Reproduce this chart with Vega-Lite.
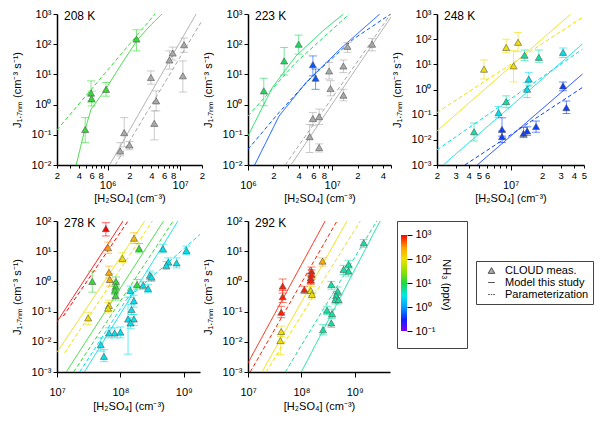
{
  "$schema": "https://vega.github.io/schema/vega-lite/v6.json",
  "padding": {"left": 11, "top": 8, "right": 2, "bottom": 2},
  "config": {
    "view": {"stroke": null},
    "font": "Liberation Sans",
    "axis": {
      "grid": false, "domainColor": "black", "domainWidth": 1.5, "tickColor": "black", "tickWidth": 1,
      "labelColor": "black", "titleColor": "black", "labelFont": "Liberation Sans", "titleFont": "Liberation Sans",
      "titleFontWeight": "normal", "titleFontSize": 11, "labelFontSize": 11, "labelOverlap": false, "labelFlush": false
    },
    "title": {"font": "Liberation Sans", "fontSize": 12, "fontWeight": "normal", "color": "black"}
  },
  "datasets": {
    "pts": [
      {"T": "208 K", "x": 4.9e5, "j": 0.15, "lo": 0.055, "hi": 0.37, "nh3": 12},
      {"T": "208 K", "x": 5.9e5, "j": 2.4, "lo": 1.2, "hi": 6.1, "nh3": 12},
      {"T": "208 K", "x": 6.0e5, "j": 1.6, "lo": 0.9, "hi": 2.8, "nh3": 12},
      {"T": "208 K", "x": 9.5e5, "j": 3.2, "lo": 1.9, "hi": 5.4, "nh3": 12},
      {"T": "208 K", "x": 2.5e6, "j": 148, "lo": 60, "hi": 300, "nh3": 12},
      {"T": "208 K", "x": 1.49e6, "j": 0.029, "lo": 0.02, "hi": 0.055, "nh3": null},
      {"T": "208 K", "x": 1.69e6, "j": 0.118, "lo": 0.04, "hi": 0.37, "nh3": null},
      {"T": "208 K", "x": 2.0e6, "j": 0.046, "lo": 0.032, "hi": 0.06, "nh3": null},
      {"T": "208 K", "x": 3.95e6, "j": 7.9, "lo": 4.75, "hi": 13, "nh3": null},
      {"T": "208 K", "x": 4.67e6, "j": 1.33, "lo": 0.62, "hi": 2.85, "nh3": null},
      {"T": "208 K", "x": 4.4e6, "j": 0.24, "lo": 0.068, "hi": 0.62, "nh3": null},
      {"T": "208 K", "x": 7.1e6, "j": 30, "lo": 15, "hi": 60, "nh3": null},
      {"T": "208 K", "x": 7.9e6, "j": 51, "lo": 30, "hi": 80, "nh3": null},
      {"T": "208 K", "x": 1.13e7, "j": 96, "lo": 54, "hi": 160, "nh3": null},
      {"T": "208 K", "x": 1.09e7, "j": 9, "lo": 2.6, "hi": 28, "nh3": null},

      {"T": "223 K", "x": 1.54e6, "j": 2.86, "lo": 0.91, "hi": 7.5, "nh3": 8},
      {"T": "223 K", "x": 2.69e6, "j": 28, "lo": 9.5, "hi": 78, "nh3": 8},
      {"T": "223 K", "x": 4.0e6, "j": 100, "lo": 47, "hi": 200, "nh3": 8},
      {"T": "223 K", "x": 5.9e6, "j": 21, "lo": 9, "hi": 41, "nh3": 0.5},
      {"T": "223 K", "x": 6.35e6, "j": 7.5, "lo": 3.2, "hi": 15, "nh3": 0.5},
      {"T": "223 K", "x": 5.4e6, "j": 0.087, "lo": 0.026, "hi": 0.22, "nh3": null},
      {"T": "223 K", "x": 5.9e6, "j": 0.345, "lo": 0.2, "hi": 0.55, "nh3": null},
      {"T": "223 K", "x": 7.0e6, "j": 0.40, "lo": 0.22, "hi": 0.71, "nh3": null},
      {"T": "223 K", "x": 7.0e6, "j": 0.038, "lo": 0.027, "hi": 0.05, "nh3": null},
      {"T": "223 K", "x": 9.2e6, "j": 13, "lo": 7, "hi": 25, "nh3": null},
      {"T": "223 K", "x": 9.55e6, "j": 3.4, "lo": 1.95, "hi": 6.2, "nh3": null},
      {"T": "223 K", "x": 1.36e7, "j": 19, "lo": 11.5, "hi": 30, "nh3": null},
      {"T": "223 K", "x": 1.36e7, "j": 2.05, "lo": 1.33, "hi": 3.2, "nh3": null},
      {"T": "223 K", "x": 1.52e7, "j": 85, "lo": 54, "hi": 115, "nh3": null},
      {"T": "223 K", "x": 2.98e7, "j": 100, "lo": 60, "hi": 155, "nh3": null},

      {"T": "248 K", "x": 5.6e6, "j": 6.4, "lo": 2.6, "hi": 15, "nh3": 100},
      {"T": "248 K", "x": 9.1e6, "j": 47, "lo": 29, "hi": 100, "nh3": 100},
      {"T": "248 K", "x": 1.18e7, "j": 75, "lo": 32, "hi": 185, "nh3": 100},
      {"T": "248 K", "x": 1.07e7, "j": 8.7, "lo": 2.0, "hi": 35, "nh3": 100},
      {"T": "248 K", "x": 1.36e7, "j": 23, "lo": 14, "hi": 37, "nh3": 5},
      {"T": "248 K", "x": 1.86e7, "j": 19, "lo": 12, "hi": 37, "nh3": 5},
      {"T": "248 K", "x": 4.5e6, "j": 0.021, "lo": 0.009, "hi": 0.046, "nh3": 5},
      {"T": "248 K", "x": 9.1e6, "j": 0.33, "lo": 0.19, "hi": 0.56, "nh3": 5},
      {"T": "248 K", "x": 7.7e6, "j": 0.12, "lo": 0.078, "hi": 0.21, "nh3": 2.6},
      {"T": "248 K", "x": 1.49e7, "j": 2.6, "lo": 1.4, "hi": 4.8, "nh3": 2.6},
      {"T": "248 K", "x": 1.44e7, "j": 1.03, "lo": 0.48, "hi": 1.9, "nh3": 2.6},
      {"T": "248 K", "x": 3.16e7, "j": 30, "lo": 18.6, "hi": 45, "nh3": 2.6},
      {"T": "248 K", "x": 8.3e6, "j": 0.026, "lo": 0.014, "hi": 0.075, "nh3": 0.4},
      {"T": "248 K", "x": 8.3e6, "j": 0.0134, "lo": 0.0078, "hi": 0.022, "nh3": 0.4},
      {"T": "248 K", "x": 1.33e7, "j": 0.018, "lo": 0.0123, "hi": 0.031, "nh3": 0.4},
      {"T": "248 K", "x": 1.44e7, "j": 0.0226, "lo": 0.015, "hi": 0.033, "nh3": 0.4},
      {"T": "248 K", "x": 1.75e7, "j": 0.034, "lo": 0.02, "hi": 0.056, "nh3": 0.4},
      {"T": "248 K", "x": 3.16e7, "j": 1.4, "lo": 0.89, "hi": 2.0, "nh3": 0.4},
      {"T": "248 K", "x": 3.4e7, "j": 0.19, "lo": 0.11, "hi": 0.35, "nh3": 0.4},

      {"T": "278 K", "x": 5.9e7, "j": 56, "lo": 32, "hi": 88, "nh3": 1000},
      {"T": "278 K", "x": 6.4e7, "j": 13, "lo": 8.5, "hi": 20, "nh3": 300},
      {"T": "278 K", "x": 1.64e8, "j": 27, "lo": 18, "hi": 41, "nh3": 200},
      {"T": "278 K", "x": 1.97e8, "j": 12.4, "lo": 8.9, "hi": 18, "nh3": 12},
      {"T": "278 K", "x": 1.08e8, "j": 5.8, "lo": 4.2, "hi": 8.9, "nh3": 100},
      {"T": "278 K", "x": 3.6e7, "j": 1.0, "lo": 0.44, "hi": 2.2, "nh3": 12},
      {"T": "278 K", "x": 6.6e7, "j": 2.0, "lo": 1.3, "hi": 3.2, "nh3": 250},
      {"T": "278 K", "x": 6.8e7, "j": 1.16, "lo": 0.7, "hi": 1.8, "nh3": 250},
      {"T": "278 K", "x": 8.5e7, "j": 1.0, "lo": 0.7, "hi": 1.4, "nh3": 12},
      {"T": "278 K", "x": 8.4e7, "j": 0.69, "lo": 0.5, "hi": 0.95, "nh3": 12},
      {"T": "278 K", "x": 8.2e7, "j": 0.51, "lo": 0.37, "hi": 0.7, "nh3": 12},
      {"T": "278 K", "x": 8.4e7, "j": 0.34, "lo": 0.24, "hi": 0.48, "nh3": 12},
      {"T": "278 K", "x": 6.6e7, "j": 0.16, "lo": 0.11, "hi": 0.24, "nh3": 100},
      {"T": "278 K", "x": 6.4e7, "j": 0.13, "lo": 0.09, "hi": 0.2, "nh3": 100},
      {"T": "278 K", "x": 3.1e7, "j": 0.062, "lo": 0.037, "hi": 0.095, "nh3": 100},
      {"T": "278 K", "x": 1.83e8, "j": 0.79, "lo": 0.56, "hi": 1.15, "nh3": 12},
      {"T": "278 K", "x": 2.91e8, "j": 1.6, "lo": 1.15, "hi": 2.2, "nh3": 2.6},
      {"T": "278 K", "x": 3.1e8, "j": 1.39, "lo": 1.0, "hi": 1.9, "nh3": 2.6},
      {"T": "278 K", "x": 2.28e8, "j": 0.75, "lo": 0.55, "hi": 1.0, "nh3": 2.6},
      {"T": "278 K", "x": 2.73e8, "j": 0.58, "lo": 0.42, "hi": 0.8, "nh3": 2.6},
      {"T": "278 K", "x": 1.44e8, "j": 0.5, "lo": 0.3, "hi": 0.7, "nh3": 2.6},
      {"T": "278 K", "x": 1.63e8, "j": 0.23, "lo": 0.14, "hi": 0.35, "nh3": 2.6},
      {"T": "278 K", "x": 1.5e8, "j": 0.117, "lo": 0.08, "hi": 0.17, "nh3": 2.6},
      {"T": "278 K", "x": 1.32e8, "j": 0.057, "lo": 0.0039, "hi": 0.3, "nh3": 2.6},
      {"T": "278 K", "x": 1.63e8, "j": 0.057, "lo": 0.035, "hi": 0.08, "nh3": 2.6},
      {"T": "278 K", "x": 1.44e8, "j": 0.042, "lo": 0.028, "hi": 0.062, "nh3": 2.6},
      {"T": "278 K", "x": 8.1e7, "j": 0.0196, "lo": 0.0135, "hi": 0.029, "nh3": 2.6},
      {"T": "278 K", "x": 1.0e8, "j": 0.021, "lo": 0.0135, "hi": 0.031, "nh3": 2.6},
      {"T": "278 K", "x": 6.6e7, "j": 0.0197, "lo": 0.0135, "hi": 0.029, "nh3": 2.6},
      {"T": "278 K", "x": 4.9e7, "j": 0.008, "lo": 0.0049, "hi": 0.0135, "nh3": 2.6},
      {"T": "278 K", "x": 5.5e7, "j": 0.0033, "lo": 0.0022, "hi": 0.0055, "nh3": 2.6},
      {"T": "278 K", "x": 4.7e8, "j": 12, "lo": 8.9, "hi": 17, "nh3": 2.6},
      {"T": "278 K", "x": 5.7e8, "j": 4.4, "lo": 3.3, "hi": 6, "nh3": 2.6},
      {"T": "278 K", "x": 5.3e8, "j": 3.4, "lo": 2.5, "hi": 4.6, "nh3": 2.6},
      {"T": "278 K", "x": 7.7e8, "j": 4.1, "lo": 2.8, "hi": 6, "nh3": 2.6},
      {"T": "278 K", "x": 1.1e9, "j": 10.6, "lo": 7.8, "hi": 14.8, "nh3": 2.6},

      {"T": "292 K", "x": 4.47e7, "j": 0.7, "lo": 0.41, "hi": 1.2, "nh3": 800},
      {"T": "292 K", "x": 4.47e7, "j": 0.31, "lo": 0.2, "hi": 0.5, "nh3": 800},
      {"T": "292 K", "x": 4.2e7, "j": 0.095, "lo": 0.063, "hi": 0.15, "nh3": 800},
      {"T": "292 K", "x": 1.14e8, "j": 0.54, "lo": 0.4, "hi": 0.69, "nh3": 800},
      {"T": "292 K", "x": 1.55e8, "j": 2.2, "lo": 1.5, "hi": 3.0, "nh3": 800},
      {"T": "292 K", "x": 1.55e8, "j": 1.7, "lo": 1.2, "hi": 2.4, "nh3": 800},
      {"T": "292 K", "x": 1.5e8, "j": 1.3, "lo": 0.9, "hi": 1.8, "nh3": 800},
      {"T": "292 K", "x": 1.5e8, "j": 1.1, "lo": 0.8, "hi": 1.5, "nh3": 800},
      {"T": "292 K", "x": 2.5e8, "j": 4.7, "lo": 3.2, "hi": 6, "nh3": 250},
      {"T": "292 K", "x": 1.5e8, "j": 0.5, "lo": 0.35, "hi": 0.68, "nh3": 100},
      {"T": "292 K", "x": 1.58e8, "j": 0.37, "lo": 0.26, "hi": 0.52, "nh3": 100},
      {"T": "292 K", "x": 4.2e7, "j": 0.022, "lo": 0.015, "hi": 0.033, "nh3": 100},
      {"T": "292 K", "x": 4.04e7, "j": 0.011, "lo": 0.0038, "hi": 0.017, "nh3": 100},
      {"T": "292 K", "x": 3.65e8, "j": 0.79, "lo": 0.55, "hi": 1.0, "nh3": 5},
      {"T": "292 K", "x": 3.03e8, "j": 0.111, "lo": 0.08, "hi": 0.15, "nh3": 5},
      {"T": "292 K", "x": 3.76e8, "j": 0.086, "lo": 0.062, "hi": 0.12, "nh3": 5},
      {"T": "292 K", "x": 3.65e8, "j": 0.042, "lo": 0.03, "hi": 0.06, "nh3": 5},
      {"T": "292 K", "x": 2.55e8, "j": 0.025, "lo": 0.017, "hi": 0.037, "nh3": 5},
      {"T": "292 K", "x": 4.8e8, "j": 0.475, "lo": 0.34, "hi": 0.65, "nh3": 5},
      {"T": "292 K", "x": 4.5e8, "j": 0.34, "lo": 0.24, "hi": 0.47, "nh3": 5},
      {"T": "292 K", "x": 4.34e8, "j": 0.25, "lo": 0.18, "hi": 0.35, "nh3": 5},
      {"T": "292 K", "x": 5.0e8, "j": 0.25, "lo": 0.18, "hi": 0.35, "nh3": 5},
      {"T": "292 K", "x": 6.2e8, "j": 2.5, "lo": 1.7, "hi": 3.4, "nh3": 5},
      {"T": "292 K", "x": 7.7e8, "j": 3.7, "lo": 2.6, "hi": 5, "nh3": 5},
      {"T": "292 K", "x": 7.7e8, "j": 2.2, "lo": 1.5, "hi": 3.0, "nh3": 5},
      {"T": "292 K", "x": 1.48e9, "j": 19, "lo": 13.5, "hi": 24.5, "nh3": 5}
    ],
    "lines": [
      {"T": "208 K", "id": "g1", "kind": "model", "x": 3.68e5, "j": 0.01, "nh3": 12},
      {"T": "208 K", "id": "g1", "kind": "model", "x": 4.6e5, "j": 0.091, "nh3": 12},
      {"T": "208 K", "id": "g1", "kind": "model", "x": 5.9e5, "j": 0.7, "nh3": 12},
      {"T": "208 K", "id": "g1", "kind": "model", "x": 9.5e5, "j": 3.4, "nh3": 12},
      {"T": "208 K", "id": "g1", "kind": "model", "x": 1.49e6, "j": 19, "nh3": 12},
      {"T": "208 K", "id": "g1", "kind": "model", "x": 2.57e6, "j": 140, "nh3": 12},
      {"T": "208 K", "id": "g1", "kind": "model", "x": 3.85e6, "j": 410, "nh3": 12},
      {"T": "208 K", "id": "g1", "kind": "model", "x": 5.6e6, "j": 1000, "nh3": 12},
      {"T": "208 K", "id": "g2", "kind": "param", "x": 2e5, "j": 0.145, "nh3": 12},
      {"T": "208 K", "id": "g2", "kind": "param", "x": 4.5e6, "j": 1000, "nh3": 12},
      {"T": "208 K", "id": "b1", "kind": "model", "x": 1.06e6, "j": 0.01, "nh3": null},
      {"T": "208 K", "id": "b1", "kind": "model", "x": 1.66e7, "j": 1000, "nh3": null},
      {"T": "208 K", "id": "b2", "kind": "param", "x": 1.27e6, "j": 0.01, "nh3": null},
      {"T": "208 K", "id": "b2", "kind": "param", "x": 2e7, "j": 600, "nh3": null},

      {"T": "223 K", "id": "g1", "kind": "model", "x": 1e6, "j": 0.091, "nh3": 8},
      {"T": "223 K", "id": "g1", "kind": "model", "x": 1.95e6, "j": 3.7, "nh3": 8},
      {"T": "223 K", "id": "g1", "kind": "model", "x": 3.72e6, "j": 41, "nh3": 8},
      {"T": "223 K", "id": "g1", "kind": "model", "x": 7.8e6, "j": 280, "nh3": 8},
      {"T": "223 K", "id": "g1", "kind": "model", "x": 1.36e7, "j": 1000, "nh3": 8},
      {"T": "223 K", "id": "g2", "kind": "param", "x": 1e6, "j": 0.42, "nh3": 8},
      {"T": "223 K", "id": "g2", "kind": "param", "x": 3.72e6, "j": 25, "nh3": 8},
      {"T": "223 K", "id": "g2", "kind": "param", "x": 1.6e7, "j": 1000, "nh3": 8},
      {"T": "223 K", "id": "u1", "kind": "model", "x": 1.2e6, "j": 0.01, "nh3": 0.5},
      {"T": "223 K", "id": "u1", "kind": "model", "x": 2.34e6, "j": 0.42, "nh3": 0.5},
      {"T": "223 K", "id": "u1", "kind": "model", "x": 4.9e6, "j": 5.4, "nh3": 0.5},
      {"T": "223 K", "id": "u1", "kind": "model", "x": 1.24e7, "j": 69, "nh3": 0.5},
      {"T": "223 K", "id": "u1", "kind": "model", "x": 3.68e7, "j": 1000, "nh3": 0.5},
      {"T": "223 K", "id": "u2", "kind": "param", "x": 1e6, "j": 0.033, "nh3": 0.5},
      {"T": "223 K", "id": "u2", "kind": "param", "x": 2.34e6, "j": 0.55, "nh3": 0.5},
      {"T": "223 K", "id": "u2", "kind": "param", "x": 5.9e6, "j": 9, "nh3": 0.5},
      {"T": "223 K", "id": "u2", "kind": "param", "x": 1.79e7, "j": 148, "nh3": 0.5},
      {"T": "223 K", "id": "u2", "kind": "param", "x": 4.96e7, "j": 1000, "nh3": 0.5},
      {"T": "223 K", "id": "b1", "kind": "model", "x": 3.24e6, "j": 0.01, "nh3": null},
      {"T": "223 K", "id": "b1", "kind": "model", "x": 5.3e7, "j": 1000, "nh3": null},
      {"T": "223 K", "id": "b2", "kind": "param", "x": 2.77e6, "j": 0.01, "nh3": null},
      {"T": "223 K", "id": "b2", "kind": "param", "x": 4.96e7, "j": 1000, "nh3": null},

      {"T": "248 K", "id": "y1", "kind": "model", "x": 2e6, "j": 0.0226, "nh3": 100},
      {"T": "248 K", "id": "y1", "kind": "model", "x": 3.74e7, "j": 1000, "nh3": 100},
      {"T": "248 K", "id": "y2", "kind": "param", "x": 2e6, "j": 0.121, "nh3": 100},
      {"T": "248 K", "id": "y2", "kind": "param", "x": 4.83e7, "j": 736, "nh3": 100},
      {"T": "248 K", "id": "c1", "kind": "model", "x": 2.29e6, "j": 0.001, "nh3": 2.6},
      {"T": "248 K", "id": "c1", "kind": "model", "x": 4.83e7, "j": 64, "nh3": 2.6},
      {"T": "248 K", "id": "c2", "kind": "param", "x": 2e6, "j": 0.004, "nh3": 2.6},
      {"T": "248 K", "id": "c2", "kind": "param", "x": 4.83e7, "j": 40, "nh3": 2.6},
      {"T": "248 K", "id": "u1", "kind": "model", "x": 4.83e6, "j": 0.001, "nh3": 0.4},
      {"T": "248 K", "id": "u1", "kind": "model", "x": 4.83e7, "j": 4.1, "nh3": 0.4},
      {"T": "248 K", "id": "u2", "kind": "param", "x": 3.68e6, "j": 0.001, "nh3": 0.4},
      {"T": "248 K", "id": "u2", "kind": "param", "x": 4.83e7, "j": 1.2, "nh3": 0.4},

      {"T": "278 K", "id": "r1", "kind": "model", "x": 1e7, "j": 0.046, "nh3": 1000},
      {"T": "278 K", "id": "r1", "kind": "model", "x": 1.1e8, "j": 100, "nh3": 1000},
      {"T": "278 K", "id": "r2", "kind": "param", "x": 1.25e7, "j": 0.07, "nh3": 1000},
      {"T": "278 K", "id": "r2", "kind": "param", "x": 1.32e8, "j": 100, "nh3": 1000},
      {"T": "278 K", "id": "y1", "kind": "model", "x": 1e7, "j": 0.0045, "nh3": 100},
      {"T": "278 K", "id": "y1", "kind": "model", "x": 2.42e8, "j": 100, "nh3": 100},
      {"T": "278 K", "id": "y2", "kind": "param", "x": 1.32e7, "j": 0.0043, "nh3": 100},
      {"T": "278 K", "id": "y2", "kind": "param", "x": 3.2e8, "j": 100, "nh3": 100},
      {"T": "278 K", "id": "g1", "kind": "model", "x": 1.4e7, "j": 0.001, "nh3": 12},
      {"T": "278 K", "id": "g1", "kind": "model", "x": 4.8e8, "j": 100, "nh3": 12},
      {"T": "278 K", "id": "g2", "kind": "param", "x": 1.83e7, "j": 0.001, "nh3": 12},
      {"T": "278 K", "id": "g2", "kind": "param", "x": 6.8e8, "j": 100, "nh3": 12},
      {"T": "278 K", "id": "c1", "kind": "model", "x": 2.7e7, "j": 0.001, "nh3": 2.6},
      {"T": "278 K", "id": "c1", "kind": "model", "x": 8.1e8, "j": 100, "nh3": 2.6},
      {"T": "278 K", "id": "c2", "kind": "param", "x": 2.28e7, "j": 0.001, "nh3": 2.6},
      {"T": "278 K", "id": "c2", "kind": "param", "x": 1.24e8, "j": 0.25, "nh3": 2.6},
      {"T": "278 K", "id": "c2", "kind": "param", "x": 1.8e9, "j": 36, "nh3": 2.6},

      {"T": "292 K", "id": "r1", "kind": "model", "x": 1e7, "j": 0.002, "nh3": 800},
      {"T": "292 K", "id": "r1", "kind": "model", "x": 2.8e8, "j": 100, "nh3": 800},
      {"T": "292 K", "id": "r2", "kind": "param", "x": 1.1e7, "j": 0.001, "nh3": 800},
      {"T": "292 K", "id": "r2", "kind": "param", "x": 4.67e8, "j": 100, "nh3": 800},
      {"T": "292 K", "id": "y1", "kind": "model", "x": 1.83e7, "j": 0.001, "nh3": 100},
      {"T": "292 K", "id": "y1", "kind": "model", "x": 7.2e8, "j": 100, "nh3": 100},
      {"T": "292 K", "id": "y2", "kind": "param", "x": 2.18e7, "j": 0.001, "nh3": 100},
      {"T": "292 K", "id": "y2", "kind": "param", "x": 1.28e9, "j": 100, "nh3": 100},
      {"T": "292 K", "id": "t1", "kind": "model", "x": 1e8, "j": 0.001, "nh3": 5},
      {"T": "292 K", "id": "t1", "kind": "model", "x": 3.0e9, "j": 100, "nh3": 5},
      {"T": "292 K", "id": "t2", "kind": "param", "x": 5e7, "j": 0.001, "nh3": 5},
      {"T": "292 K", "id": "t2", "kind": "param", "x": 2.6e9, "j": 100, "nh3": 5}
    ]
  },
  "resolve": {"scale": {"shape": "independent"}, "legend": {"shape": "independent"}},
  "vconcat": [
    {
      "hconcat": [
        {
          "width": 145, "height": 151,
          "title": {"text": "208 K", "anchor": "start", "frame": "group", "dx": 7, "offset": -24, "baseline": "alphabetic"},
          "encoding": {
            "x": {"field": "x", "type": "quantitative", "scale": {"type": "log", "domain": [200000, 20000000]},
              "axis": {"title": "[H₂SO₄] (cm⁻³)", "titlePadding": 2,
                "values": [200000, 300000, 400000, 500000, 600000, 700000, 800000, 900000, 1000000, 2000000, 3000000, 4000000, 5000000, 6000000, 7000000, 8000000, 9000000, 10000000, 20000000],
                "labelExpr": "abs(log(datum.value)/LN10 - round(log(datum.value)/LN10)) < 0.001 ? ['', '10' + ['⁵','⁶','⁷','⁸','⁹'][round(log(datum.value)/LN10) - 5]] : (indexof([200000, 400000, 600000, 800000, 2000000, 4000000, 6000000, 8000000, 20000000], datum.value) >= 0 ? '' + round(datum.value / pow(10, floor(log(datum.value)/LN10 + 0.001))) : '')",
                "labelLineHeight": 7,
                "tickSize": {"condition": {"test": "abs(log(datum.value)/LN10 - round(log(datum.value)/LN10)) < 0.001", "value": 5}, "value": 3},
                "labelFontSize": {"condition": {"test": "abs(log(datum.value)/LN10 - round(log(datum.value)/LN10)) < 0.001", "value": 11}, "value": 9.5}}},
            "y": {"field": "j", "type": "quantitative", "scale": {"type": "log", "domain": [0.01, 1000]},
              "axis": {"title": "J₁.₇ₙₘ (cm⁻³ s⁻¹)", "titlePadding": 9, "tickSize": 4, "values": [0.01, 0.1, 1, 10, 100, 1000],
                "labelExpr": "'10' + ['⁻³','⁻²','⁻¹','⁰','¹','²','³'][round(log(datum.value)/LN10) + 3]"}},
            "color": {"condition": {"test": "datum.nh3 == null", "value": "#a8a8a8"}, "field": "nh3", "type": "quantitative",
              "scale": {"type": "log", "domain": [0.1, 0.3, 1, 3, 10, 30, 100, 300, 1000], "range": ["#8000ff", "#1020ff", "#00a0ff", "#00e8e8", "#20d840", "#90e000", "#f0e000", "#ffa000", "#ff0000"], "interpolate": "rgb"}, "legend": null}
          },
          "layer": [
            {"data": {"name": "lines"}, "transform": [{"filter": "datum.T == '208 K'"}],
              "mark": {"type": "line", "clip": true, "strokeWidth": 1, "invalid": "show"},
              "encoding": {"detail": {"field": "id"}, "strokeDash": {"field": "kind", "type": "nominal", "scale": {"domain": ["model", "param"], "range": [[1, 0], [4, 2.5]]}, "legend": null}}},
            {"data": {"name": "pts"}, "transform": [{"filter": "datum.T == '208 K'"}],
              "mark": {"type": "rule", "opacity": 0.6, "invalid": "show"},
              "encoding": {"y": {"field": "lo", "type": "quantitative", "scale": {"type": "log", "domain": [0.01, 1000]}}, "y2": {"field": "hi"}}},
            {"data": {"name": "pts"}, "transform": [{"filter": "datum.T == '208 K'"}],
              "mark": {"type": "tick", "orient": "horizontal", "size": 8, "thickness": 1, "opacity": 0.6, "invalid": "show"},
              "encoding": {"y": {"field": "lo", "type": "quantitative", "scale": {"type": "log", "domain": [0.01, 1000]}}}},
            {"data": {"name": "pts"}, "transform": [{"filter": "datum.T == '208 K'"}],
              "mark": {"type": "tick", "orient": "horizontal", "size": 8, "thickness": 1, "opacity": 0.6, "invalid": "show"},
              "encoding": {"y": {"field": "hi", "type": "quantitative", "scale": {"type": "log", "domain": [0.01, 1000]}}}},
            {"data": {"name": "pts"}, "transform": [{"filter": "datum.T == '208 K'"}],
              "mark": {"type": "point", "shape": "triangle-up", "filled": true, "size": 50, "opacity": 1, "stroke": "#555", "strokeWidth": 0.6, "invalid": "show"}}
          ]
        },
        {
          "width": 143, "height": 151,
          "title": {"text": "223 K", "anchor": "start", "frame": "group", "dx": 7, "offset": -24, "baseline": "alphabetic"},
          "encoding": {
            "x": {"field": "x", "type": "quantitative", "scale": {"type": "log", "domain": [1000000, 50000000]},
              "axis": {"title": "[H₂SO₄] (cm⁻³)", "titlePadding": 2,
                "values": [1000000, 2000000, 3000000, 4000000, 5000000, 6000000, 7000000, 8000000, 9000000, 10000000, 20000000, 30000000, 40000000, 50000000],
                "labelExpr": "abs(log(datum.value)/LN10 - round(log(datum.value)/LN10)) < 0.001 ? ['', '10' + ['⁵','⁶','⁷','⁸','⁹'][round(log(datum.value)/LN10) - 5]] : (indexof([2000000, 4000000, 6000000, 8000000, 20000000, 40000000], datum.value) >= 0 ? '' + round(datum.value / pow(10, floor(log(datum.value)/LN10 + 0.001))) : '')",
                "labelLineHeight": 7,
                "tickSize": {"condition": {"test": "abs(log(datum.value)/LN10 - round(log(datum.value)/LN10)) < 0.001", "value": 5}, "value": 3},
                "labelFontSize": {"condition": {"test": "abs(log(datum.value)/LN10 - round(log(datum.value)/LN10)) < 0.001", "value": 11}, "value": 9.5}}},
            "y": {"field": "j", "type": "quantitative", "scale": {"type": "log", "domain": [0.01, 1000]},
              "axis": {"title": "J₁.₇ₙₘ (cm⁻³ s⁻¹)", "titlePadding": 9, "tickSize": 4, "values": [0.01, 0.1, 1, 10, 100, 1000],
                "labelExpr": "'10' + ['⁻³','⁻²','⁻¹','⁰','¹','²','³'][round(log(datum.value)/LN10) + 3]"}},
            "color": {"condition": {"test": "datum.nh3 == null", "value": "#a8a8a8"}, "field": "nh3", "type": "quantitative",
              "scale": {"type": "log", "domain": [0.1, 0.3, 1, 3, 10, 30, 100, 300, 1000], "range": ["#8000ff", "#1020ff", "#00a0ff", "#00e8e8", "#20d840", "#90e000", "#f0e000", "#ffa000", "#ff0000"], "interpolate": "rgb"}, "legend": null}
          },
          "layer": [
            {"data": {"name": "lines"}, "transform": [{"filter": "datum.T == '223 K'"}],
              "mark": {"type": "line", "clip": true, "strokeWidth": 1, "invalid": "show"},
              "encoding": {"detail": {"field": "id"}, "strokeDash": {"field": "kind", "type": "nominal", "scale": {"domain": ["model", "param"], "range": [[1, 0], [4, 2.5]]}, "legend": null}}},
            {"data": {"name": "pts"}, "transform": [{"filter": "datum.T == '223 K'"}],
              "mark": {"type": "rule", "opacity": 0.6, "invalid": "show"},
              "encoding": {"y": {"field": "lo", "type": "quantitative", "scale": {"type": "log", "domain": [0.01, 1000]}}, "y2": {"field": "hi"}}},
            {"data": {"name": "pts"}, "transform": [{"filter": "datum.T == '223 K'"}],
              "mark": {"type": "tick", "orient": "horizontal", "size": 8, "thickness": 1, "opacity": 0.6, "invalid": "show"},
              "encoding": {"y": {"field": "lo", "type": "quantitative", "scale": {"type": "log", "domain": [0.01, 1000]}}}},
            {"data": {"name": "pts"}, "transform": [{"filter": "datum.T == '223 K'"}],
              "mark": {"type": "tick", "orient": "horizontal", "size": 8, "thickness": 1, "opacity": 0.6, "invalid": "show"},
              "encoding": {"y": {"field": "hi", "type": "quantitative", "scale": {"type": "log", "domain": [0.01, 1000]}}}},
            {"data": {"name": "pts"}, "transform": [{"filter": "datum.T == '223 K'"}],
              "mark": {"type": "point", "shape": "triangle-up", "filled": true, "size": 50, "opacity": 1, "stroke": "#555", "strokeWidth": 0.6, "invalid": "show"}}
          ]
        },
        {
          "width": 147, "height": 151,
          "title": {"text": "248 K", "anchor": "start", "frame": "group", "dx": 7, "offset": -24, "baseline": "alphabetic"},
          "encoding": {
            "x": {"field": "x", "type": "quantitative", "scale": {"type": "log", "domain": [2000000, 50000000]},
              "axis": {"title": "[H₂SO₄] (cm⁻³)", "titlePadding": 2,
                "values": [2000000, 3000000, 4000000, 5000000, 6000000, 7000000, 8000000, 9000000, 10000000, 20000000, 30000000, 40000000, 50000000],
                "labelExpr": "abs(log(datum.value)/LN10 - round(log(datum.value)/LN10)) < 0.001 ? ['', '10' + ['⁵','⁶','⁷','⁸','⁹'][round(log(datum.value)/LN10) - 5]] : (indexof([2000000, 3000000, 4000000, 5000000, 6000000, 20000000, 30000000, 40000000, 50000000], datum.value) >= 0 ? '' + round(datum.value / pow(10, floor(log(datum.value)/LN10 + 0.001))) : '')",
                "labelLineHeight": 7,
                "tickSize": {"condition": {"test": "abs(log(datum.value)/LN10 - round(log(datum.value)/LN10)) < 0.001", "value": 5}, "value": 3},
                "labelFontSize": {"condition": {"test": "abs(log(datum.value)/LN10 - round(log(datum.value)/LN10)) < 0.001", "value": 11}, "value": 9.5}}},
            "y": {"field": "j", "type": "quantitative", "scale": {"type": "log", "domain": [0.001, 1000]},
              "axis": {"title": "J₁.₇ₙₘ (cm⁻³ s⁻¹)", "titlePadding": 9, "tickSize": 4, "values": [0.001, 0.01, 0.1, 1, 10, 100, 1000],
                "labelExpr": "'10' + ['⁻³','⁻²','⁻¹','⁰','¹','²','³'][round(log(datum.value)/LN10) + 3]"}},
            "color": {"condition": {"test": "datum.nh3 == null", "value": "#a8a8a8"}, "field": "nh3", "type": "quantitative",
              "scale": {"type": "log", "domain": [0.1, 0.3, 1, 3, 10, 30, 100, 300, 1000], "range": ["#8000ff", "#1020ff", "#00a0ff", "#00e8e8", "#20d840", "#90e000", "#f0e000", "#ffa000", "#ff0000"], "interpolate": "rgb"}, "legend": null}
          },
          "layer": [
            {"data": {"name": "lines"}, "transform": [{"filter": "datum.T == '248 K'"}],
              "mark": {"type": "line", "clip": true, "strokeWidth": 1, "invalid": "show"},
              "encoding": {"detail": {"field": "id"}, "strokeDash": {"field": "kind", "type": "nominal", "scale": {"domain": ["model", "param"], "range": [[1, 0], [4, 2.5]]}, "legend": null}}},
            {"data": {"name": "pts"}, "transform": [{"filter": "datum.T == '248 K'"}],
              "mark": {"type": "rule", "opacity": 0.6, "invalid": "show"},
              "encoding": {"y": {"field": "lo", "type": "quantitative", "scale": {"type": "log", "domain": [0.001, 1000]}}, "y2": {"field": "hi"}}},
            {"data": {"name": "pts"}, "transform": [{"filter": "datum.T == '248 K'"}],
              "mark": {"type": "tick", "orient": "horizontal", "size": 8, "thickness": 1, "opacity": 0.6, "invalid": "show"},
              "encoding": {"y": {"field": "lo", "type": "quantitative", "scale": {"type": "log", "domain": [0.001, 1000]}}}},
            {"data": {"name": "pts"}, "transform": [{"filter": "datum.T == '248 K'"}],
              "mark": {"type": "tick", "orient": "horizontal", "size": 8, "thickness": 1, "opacity": 0.6, "invalid": "show"},
              "encoding": {"y": {"field": "hi", "type": "quantitative", "scale": {"type": "log", "domain": [0.001, 1000]}}}},
            {"data": {"name": "pts"}, "transform": [{"filter": "datum.T == '248 K'"}],
              "mark": {"type": "point", "shape": "triangle-up", "filled": true, "size": 50, "opacity": 1, "stroke": "#555", "strokeWidth": 0.6, "invalid": "show"}}
          ]
        }
      ],
      "spacing": 46,
      "bounds": "flush"
    },
    {
      "resolve": {"scale": {"shape": "independent"}, "legend": {"shape": "independent"}},
      "hconcat": [
        {
          "width": 143, "height": 151,
          "title": {"text": "278 K", "anchor": "start", "frame": "group", "dx": 7, "offset": -24, "baseline": "alphabetic"},
          "encoding": {
            "x": {"field": "x", "type": "quantitative", "scale": {"type": "log", "domain": [10000000, 1800000000]},
              "axis": {"title": "[H₂SO₄] (cm⁻³)", "titlePadding": 3,
                "values": [10000000, 100000000, 1000000000],
                "labelExpr": "['', '10' + ['⁵','⁶','⁷','⁸','⁹'][round(log(datum.value)/LN10) - 5]]",
                "labelLineHeight": 7, "tickSize": 5}},
            "y": {"field": "j", "type": "quantitative", "scale": {"type": "log", "domain": [0.001, 100]},
              "axis": {"title": "J₁.₇ₙₘ (cm⁻³ s⁻¹)", "titlePadding": 9, "tickSize": 4, "values": [0.001, 0.01, 0.1, 1, 10, 100],
                "labelExpr": "'10' + ['⁻³','⁻²','⁻¹','⁰','¹','²','³'][round(log(datum.value)/LN10) + 3]"}},
            "color": {"condition": {"test": "datum.nh3 == null", "value": "#a8a8a8"}, "field": "nh3", "type": "quantitative",
              "scale": {"type": "log", "domain": [0.1, 0.3, 1, 3, 10, 30, 100, 300, 1000], "range": ["#8000ff", "#1020ff", "#00a0ff", "#00e8e8", "#20d840", "#90e000", "#f0e000", "#ffa000", "#ff0000"], "interpolate": "rgb"}, "legend": null}
          },
          "layer": [
            {"data": {"name": "lines"}, "transform": [{"filter": "datum.T == '278 K'"}],
              "mark": {"type": "line", "clip": true, "strokeWidth": 1, "invalid": "show"},
              "encoding": {"detail": {"field": "id"}, "strokeDash": {"field": "kind", "type": "nominal", "scale": {"domain": ["model", "param"], "range": [[1, 0], [4, 2.5]]}, "legend": null}}},
            {"data": {"name": "pts"}, "transform": [{"filter": "datum.T == '278 K'"}],
              "mark": {"type": "rule", "opacity": 0.6, "invalid": "show"},
              "encoding": {"y": {"field": "lo", "type": "quantitative", "scale": {"type": "log", "domain": [0.001, 100]}}, "y2": {"field": "hi"}}},
            {"data": {"name": "pts"}, "transform": [{"filter": "datum.T == '278 K'"}],
              "mark": {"type": "tick", "orient": "horizontal", "size": 8, "thickness": 1, "opacity": 0.6, "invalid": "show"},
              "encoding": {"y": {"field": "lo", "type": "quantitative", "scale": {"type": "log", "domain": [0.001, 100]}}}},
            {"data": {"name": "pts"}, "transform": [{"filter": "datum.T == '278 K'"}],
              "mark": {"type": "tick", "orient": "horizontal", "size": 8, "thickness": 1, "opacity": 0.6, "invalid": "show"},
              "encoding": {"y": {"field": "hi", "type": "quantitative", "scale": {"type": "log", "domain": [0.001, 100]}}}},
            {"data": {"name": "pts"}, "transform": [{"filter": "datum.T == '278 K'"}],
              "mark": {"type": "point", "shape": "triangle-up", "filled": true, "size": 50, "opacity": 1, "stroke": "#555", "strokeWidth": 0.6, "invalid": "show"}}
          ]
        },
        {
          "resolve": {"scale": {"shape": "independent"}, "legend": {"shape": "independent"}},
          "hconcat": [
            {
              "width": 142, "height": 151,
              "title": {"text": "292 K", "anchor": "start", "frame": "group", "dx": 7, "offset": -24, "baseline": "alphabetic"},
              "encoding": {
                "x": {"field": "x", "type": "quantitative", "scale": {"type": "log", "domain": [10000000, 4600000000]},
                  "axis": {"title": "[H₂SO₄] (cm⁻³)", "titlePadding": 3,
                    "values": [10000000, 100000000, 1000000000],
                    "labelExpr": "['', '10' + ['⁵','⁶','⁷','⁸','⁹'][round(log(datum.value)/LN10) - 5]]",
                    "labelLineHeight": 7, "tickSize": 5}},
                "y": {"field": "j", "type": "quantitative", "scale": {"type": "log", "domain": [0.001, 100]},
                  "axis": {"title": "J₁.₇ₙₘ (cm⁻³ s⁻¹)", "titlePadding": 9, "tickSize": 4, "values": [0.001, 0.01, 0.1, 1, 10, 100],
                    "labelExpr": "'10' + ['⁻³','⁻²','⁻¹','⁰','¹','²','³'][round(log(datum.value)/LN10) + 3]"}},
                "color": {"condition": {"test": "datum.nh3 == null", "value": "#a8a8a8"}, "field": "nh3", "type": "quantitative",
                  "scale": {"type": "log", "domain": [0.1, 0.3, 1, 3, 10, 30, 100, 300, 1000], "range": ["#8000ff", "#1020ff", "#00a0ff", "#00e8e8", "#20d840", "#90e000", "#f0e000", "#ffa000", "#ff0000"], "interpolate": "rgb"}, "legend": null}
              },
              "layer": [
                {"data": {"name": "lines"}, "transform": [{"filter": "datum.T == '292 K'"}],
                  "mark": {"type": "line", "clip": true, "strokeWidth": 1, "invalid": "show"},
                  "encoding": {"detail": {"field": "id"}, "strokeDash": {"field": "kind", "type": "nominal", "scale": {"domain": ["model", "param"], "range": [[1, 0], [4, 2.5]]}, "legend": null}}},
                {"data": {"name": "pts"}, "transform": [{"filter": "datum.T == '292 K'"}],
                  "mark": {"type": "rule", "opacity": 0.6, "invalid": "show"},
                  "encoding": {"y": {"field": "lo", "type": "quantitative", "scale": {"type": "log", "domain": [0.001, 100]}}, "y2": {"field": "hi"}}},
                {"data": {"name": "pts"}, "transform": [{"filter": "datum.T == '292 K'"}],
                  "mark": {"type": "tick", "orient": "horizontal", "size": 8, "thickness": 1, "opacity": 0.6, "invalid": "show"},
                  "encoding": {"y": {"field": "lo", "type": "quantitative", "scale": {"type": "log", "domain": [0.001, 100]}}}},
                {"data": {"name": "pts"}, "transform": [{"filter": "datum.T == '292 K'"}],
                  "mark": {"type": "tick", "orient": "horizontal", "size": 8, "thickness": 1, "opacity": 0.6, "invalid": "show"},
                  "encoding": {"y": {"field": "hi", "type": "quantitative", "scale": {"type": "log", "domain": [0.001, 100]}}}},
                {"data": {"name": "pts"}, "transform": [{"filter": "datum.T == '292 K'"}],
                  "mark": {"type": "point", "filled": true, "size": 50, "opacity": 1, "stroke": "#555", "strokeWidth": 0.6, "invalid": "show"},
                  "encoding": {"shape": {"datum": "CLOUD meas.", "type": "nominal",
                    "scale": {"domain": ["CLOUD meas.", "Model this study", "Parameterization"], "range": ["triangle-up", "M-1,0H1", "M-1,0H-0.5M-0.2,0H0.2M0.5,0H1"]},
                    "legend": {"orient": "none", "legendX": 228, "legendY": 40, "title": null, "strokeColor": "#444", "padding": 4, "labelFont": "Liberation Sans", "labelFontSize": 11, "labelColor": "black", "symbolSize": 45, "symbolStrokeWidth": 1, "symbolOffset": 6, "labelOffset": 8, "rowPadding": 0,
                      "encode": {"symbols": {"update": {"fill": {"value": "transparent"}, "stroke": {"value": "black"}, "opacity": {"value": 1}}}}}}}}
              ]
            },
            {
              "width": 70, "height": 127,
              "view": {"stroke": "#444", "strokeWidth": 1},
              "data": {"values": [{"lo": 0.1, "hi": 1000}]},
              "mark": {"type": "rect", "fill": {"gradient": "linear", "x1": 0, "y1": 1, "x2": 0, "y2": 0,
                "stops": [
                  {"offset": 0, "color": "#8000ff"}, {"offset": 0.1193, "color": "#1020ff"}, {"offset": 0.25, "color": "#00a0ff"},
                  {"offset": 0.3693, "color": "#00e8e8"}, {"offset": 0.5, "color": "#20d840"}, {"offset": 0.6193, "color": "#90e000"},
                  {"offset": 0.75, "color": "#f0e000"}, {"offset": 0.8693, "color": "#ffa000"}, {"offset": 1, "color": "#ff0000"}]}},
              "encoding": {
                "x": {"datum": 4, "type": "quantitative", "scale": {"domain": [0, 70]}, "axis": null},
                "x2": {"datum": 10},
                "y": {"field": "lo", "type": "quantitative", "scale": {"type": "log", "domain": [0.0196, 3830]},
                  "axis": {"orient": "right", "offset": -60, "domain": false, "values": [0.1, 1, 10, 100, 1000], "tickSize": 5, "labelPadding": 3,
                    "labelExpr": "'10' + ['⁻³','⁻²','⁻¹','⁰','¹','²','³'][round(log(datum.value)/LN10) + 3]",
                    "title": "NH₃ (pptv)", "titlePadding": 6}},
                "y2": {"field": "hi"}
              }
            }
          ],
          "spacing": 7,
          "bounds": "flush"
        }
      ],
      "spacing": 48,
      "bounds": "flush"
    }
  ],
  "spacing": 12
}
